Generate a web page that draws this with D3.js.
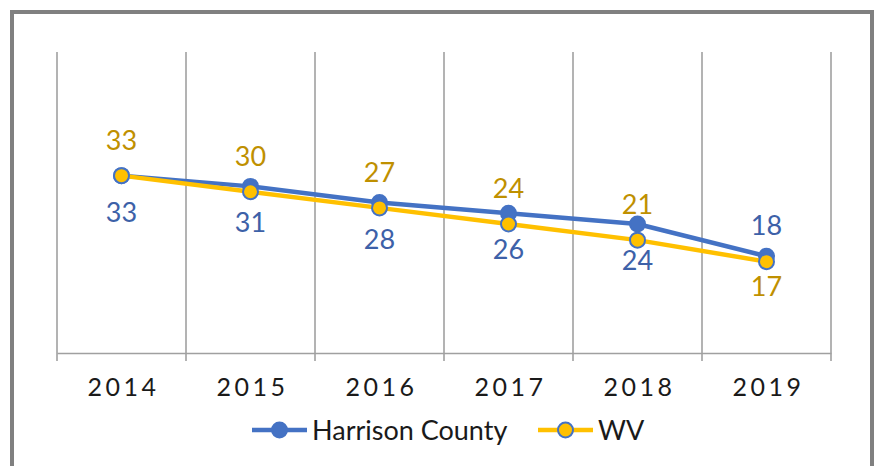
<!DOCTYPE html>
<html>
<head>
<meta charset="utf-8">
<script src="https://cdn.jsdelivr.net/npm/d3@7"></script>
<style>
  body { margin: 0; background: #fff; }
  svg { display: block; font-family: Lato, "Open Sans", sans-serif; }
</style>
</head>
<body>
<svg></svg>
<script>
// data
var years = ["2014", "2015", "2016", "2017", "2018", "2019"];
var harrison = [33, 31, 28, 26, 24, 18];
var wv = [33, 30, 27, 24, 21, 17];
var seriesNames = ["Harrison County", "WV"];

var svgWidth = 874;
var svgHeight = 466;

var svg = d3.select("svg")
    .attr("width", svgWidth)
    .attr("height", svgHeight);

// outer frame (bottom edge falls off the picture)
svg.append("rect")
    .attr("x", 12).attr("y", 12)
    .attr("width", 860).attr("height", 470)
    .attr("fill", "none")
    .attr("stroke", "#808080")
    .attr("stroke-width", 4);

var x = d3.scaleBand().domain(years).range([57, 831]);
var y = d3.scaleLinear().domain([0, 56]).range([353, 52]);

// vertical gridlines at category edges
var edges = years.map(function(d) { return x(d); }).concat([x.range()[1]]);
svg.selectAll("line.grid")
    .data(edges)
    .enter()
    .append("line")
    .attr("class", "grid")
    .attr("x1", function(d) { return d; })
    .attr("x2", function(d) { return d; })
    .attr("y1", y.range()[1])
    .attr("y2", y(0) + 8)
    .attr("stroke", "#a0a0a0")
    .attr("stroke-width", 1.6);

// x axis
var xAxis = svg.append("g")
    .attr("transform", "translate(0," + y(0) + ")")
    .call(d3.axisBottom(x).tickSize(0).tickPadding(25));
xAxis.select(".domain").attr("stroke", "#a0a0a0").attr("stroke-width", 1.6);
xAxis.selectAll("text")
    .attr("font-size", 25)
    .attr("fill", "#1a1a1a")
    .attr("font-family", "Lato, sans-serif")
    .style("letter-spacing", "3.5px")
    .attr("dx", "2px");

var cx = function(d, i) { return x(years[i]) + x.bandwidth() / 2; };

var line = d3.line()
    .x(function(d, i) { return cx(d, i); })
    .y(function(d) { return y(d); });

var series = [
    { name: seriesNames[0], values: harrison, line: "#4472C4", fill: "#4472C4", stroke: "#4472C4", label: "#3D61A8" },
    { name: seriesNames[1], values: wv, line: "#FFC000", fill: "#FFC000", stroke: "#4472C4", label: "#BF9000" }
];

series.forEach(function(s) {
    svg.append("path")
        .datum(s.values)
        .attr("d", line)
        .attr("fill", "none")
        .attr("stroke", s.line)
        .attr("stroke-width", 4.5)
        .attr("stroke-linejoin", "round");

    svg.selectAll(null)
        .data(s.values)
        .enter()
        .append("circle")
        .attr("cx", cx)
        .attr("cy", function(d) { return y(d); })
        .attr("r", 7.5)
        .attr("fill", s.fill)
        .attr("stroke", s.stroke)
        .attr("stroke-width", 2);
});

// data labels: Harrison below, WV above, swapped in the last year
var last = years.length - 1;
series.forEach(function(s, k) {
    svg.selectAll(null)
        .data(s.values)
        .enter()
        .append("text")
        .attr("x", cx)
        .attr("y", function(d, i) {
            var below = (k === 0) !== (i === last);
            if (i === last) return below ? y(d) + 34 : y(d) - 21;
            return below ? y(d) + 46 : y(d) - 26;
        })
        .attr("text-anchor", "middle")
        .attr("font-size", 27)
        .attr("fill", s.label)
        .text(function(d) { return d; });
});

// legend
var legendItems = [
    { s: series[0], x: 252 },
    { s: series[1], x: 538 }
];
var legend = svg.selectAll("g.legend")
    .data(legendItems)
    .enter()
    .append("g")
    .attr("class", "legend")
    .attr("transform", function(d) { return "translate(" + d.x + ",430)"; });

legend.append("line")
    .attr("x1", 0).attr("x2", 55)
    .attr("stroke", function(d) { return d.s.line; })
    .attr("stroke-width", 4.5);
legend.append("circle")
    .attr("cx", 27.5)
    .attr("r", 7.5)
    .attr("fill", function(d) { return d.s.fill; })
    .attr("stroke", function(d) { return d.s.stroke; })
    .attr("stroke-width", 2);
legend.append("text")
    .attr("x", 60)
    .attr("y", 10)
    .attr("font-size", 27)
    .attr("fill", "#1a1a1a")
    .text(function(d) { return d.s.name; });
</script>
</body>
</html>
